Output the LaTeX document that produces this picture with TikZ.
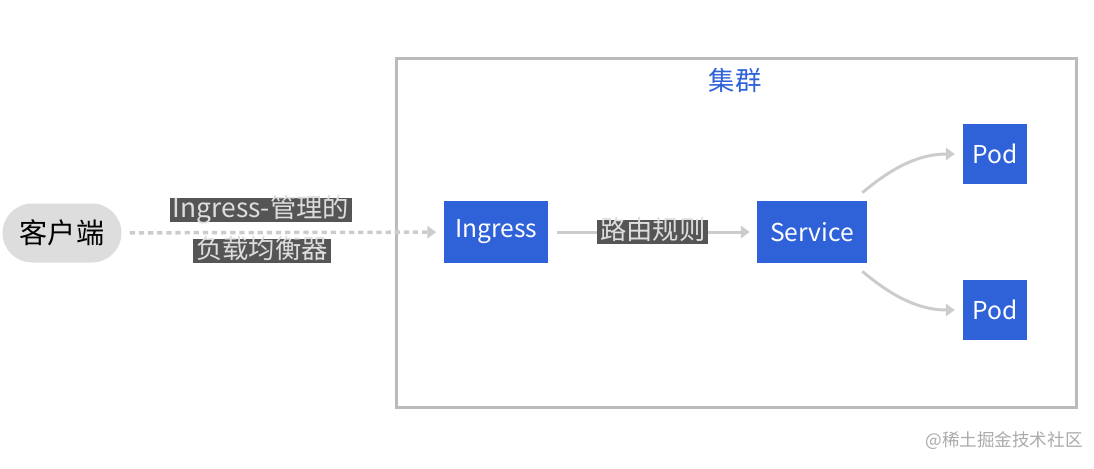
\documentclass[tikz,border=0pt]{standalone}
\usepackage{fontspec}
\setmainfont{Noto Sans CJK SC}
\usetikzlibrary{positioning,arrows.meta}
\definecolor{kblue}    {HTML}{2F62D9}
\definecolor{pill}     {HTML}{DDDDDD}
\definecolor{wire}     {HTML}{CCCCCC}
\definecolor{frame}    {HTML}{BBBBBB}
\definecolor{tagbg}    {HTML}{555555}
\definecolor{tagtext}  {HTML}{DDDDDD}
\definecolor{mark}     {HTML}{AAAAAA}
\tikzset{
  >={Triangle[length=5pt,width=7pt]},
  every node/.style={font=\fontsize{14}{16}\selectfont},
  % --- nodes
  res/.style    = {fill=kblue, text=white, inner sep=0pt, minimum height=1.24cm},
  client/.style = {fill=pill, text=black, rounded corners=0.59cm, minimum width=2.38cm,
                   minimum height=1.18cm, font=\fontsize{16}{18}\selectfont},
  tag/.style    = {fill=tagbg, text=tagtext, inner xsep=1.5pt, inner ysep=0pt,
                   text height=11.5pt, text depth=2.5pt, font=\fontsize{15}{17}\selectfont},
  % --- edges
  edge/.style   = {->, draw=wire, line width=1.7pt},
  lb/.style     = {edge, dash pattern=on 3pt off 2.2pt, line width=2pt},
}
\begin{document}
\begin{tikzpicture}[x=0.02cm,y=0.02cm]
  \useasboundingbox (0,0) rectangle (1094,-468);
  % cluster
  \draw[frame, line width=1.7pt] (396,-58) rectangle (1076,-407);
  \node[text=kblue, font=\fontsize{15}{17}\selectfont] (cl) at (735,-80) {集群};
  % nodes
  \node[client] (cli) at (62,-233) {客户端};
  \node[res, minimum width=2.1cm] (ing) at (496,-232) {Ingress};
  \node[res, minimum width=2.2cm] (svc) at (812,-232) {Service};
  \node[res, minimum width=1.28cm, minimum height=1.2cm] (pod1) at (995,-154) {Pod};
  \node[res, minimum width=1.28cm, minimum height=1.2cm] (pod2) at (995,-310) {Pod};
  % edges
  \draw[lb, shorten <=4.5pt, shorten >=4pt] (cli) -- (ing);
  \node[tag] (lb1) at (261,-210) {Ingress-管理的};
  \node[tag] (lb2) at (262,-251) {负载均衡器};
  \draw[edge, shorten <=4.5pt, shorten >=4pt] (ing) -- node[tag] (rule) {路由规则} (svc);
  \draw[edge, shorten >=4.5pt] ([shift={(-5,8)}]svc.north east) to[out=40,in=180] (pod1.west);
  \draw[edge, shorten >=4.5pt] ([shift={(-5,-8)}]svc.south east) to[out=-40,in=180] (pod2.west);
  % watermark
  \node[text=mark, font=\fontsize{10}{12}\selectfont] (wm) at (1004,-441) {@稀土掘金技术社区};
\end{tikzpicture}
\end{document}
